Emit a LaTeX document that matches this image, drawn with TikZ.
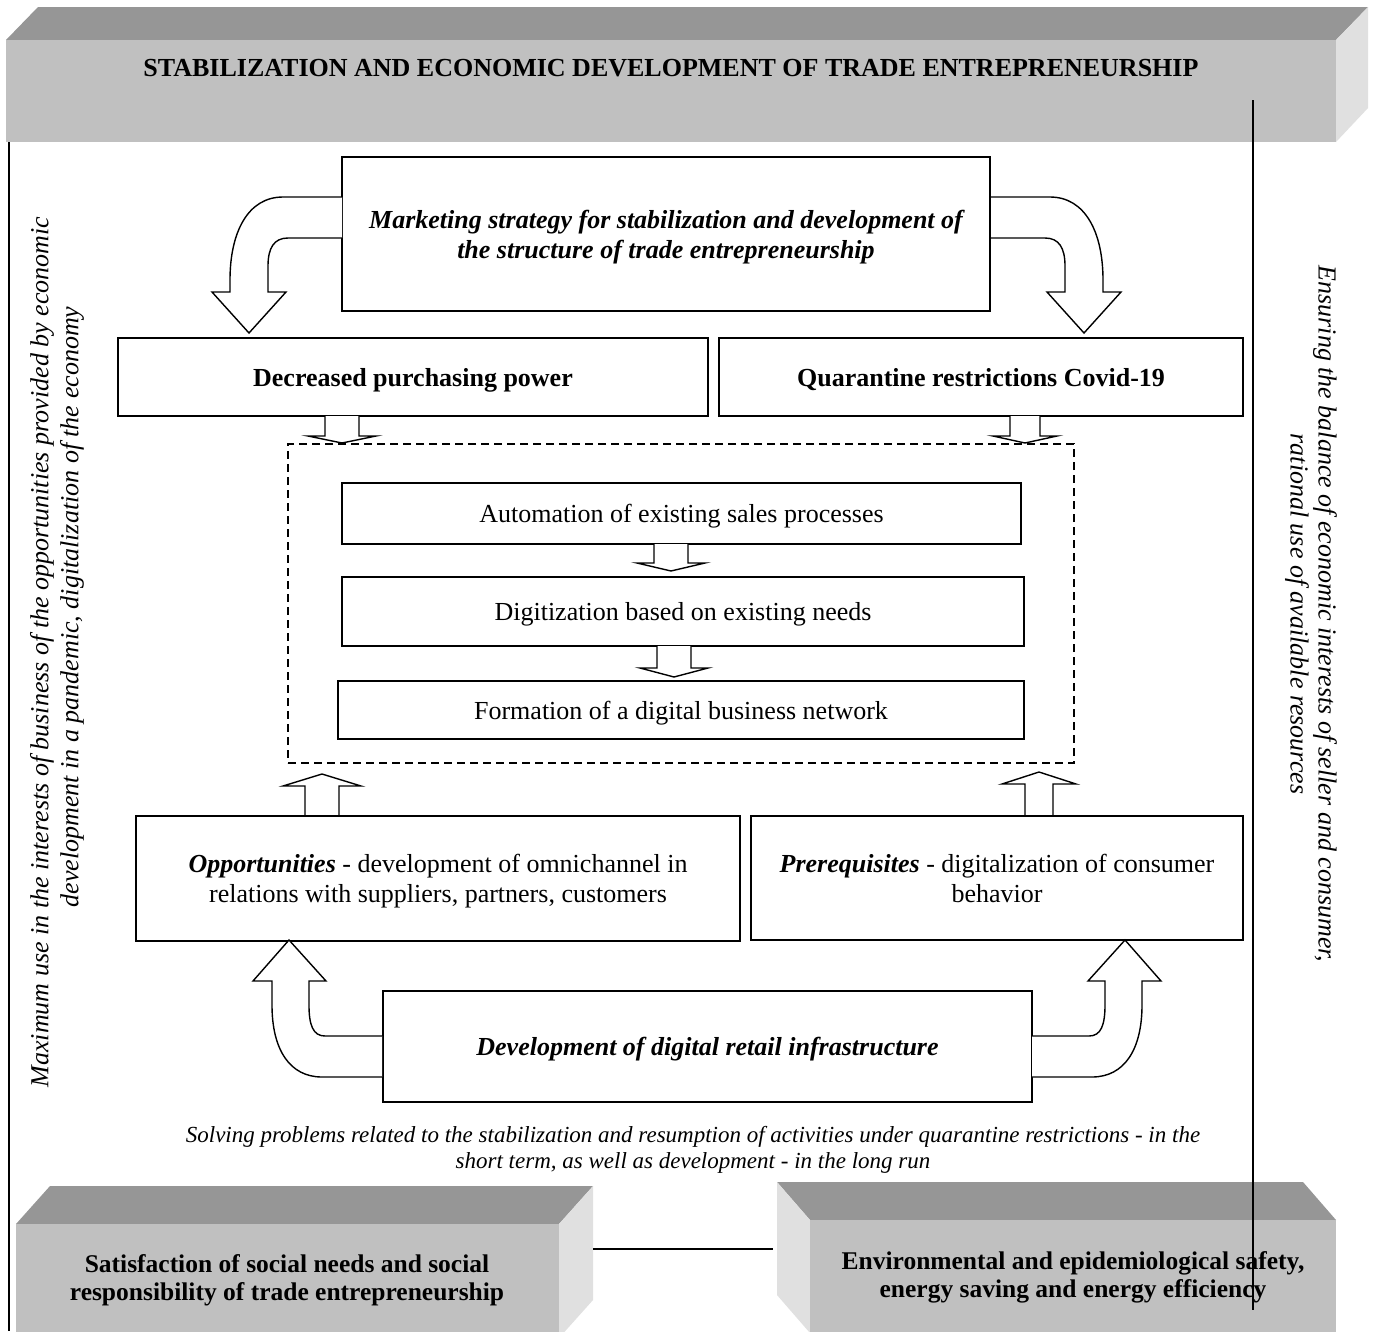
\documentclass[tikz,border=0pt]{standalone}
\usepackage{fontspec}
\setmainfont{Liberation Serif}
\definecolor{frontgray}{HTML}{C0C0C0}
\definecolor{topgray}{HTML}{969696}
\definecolor{sidegray}{HTML}{E0E0E0}
\newcommand\fsmain{\fontsize{26}{30}\selectfont}
\newcommand\fsside{\fontsize{26}{28}\selectfont}
\newcommand\fscapt{\fontsize{23}{26}\selectfont}
\newcommand\fsbottom{\fontsize{25.5}{28}\selectfont}
\newcommand\blkarrow[6]{\draw[blockarrow] ({#1-#5},#2) -- ({#1-#5},#3) -- ({#1-#6},#3) -- (#1,#4) -- ({#1+#6},#3) -- ({#1+#5},#3) -- ({#1+#5},#2);}
\begin{document}
\begin{tikzpicture}[x=1pt,y=-1pt,
  box/.style={draw, line width=1.4pt, fill=white, inner sep=0pt, align=center, font=\fsmain, text depth=0pt},
  blockarrow/.style={draw, line width=1.4pt, fill=white, line join=miter},
  lbl/.style={inner sep=0pt, align=center, font=\fsmain},
  face/.style={fill=#1, inner sep=0pt, anchor=north west}]
\clip (0,0) rectangle (1376,1331);
\fill[white] (0,0) rectangle (1376,1331);

% top banner
\fill[topgray] (6,40) -- (38,7) -- (1368,7) -- (1336,40) -- cycle;
\fill[sidegray] (1336,40) -- (1368,7) -- (1368,108) -- (1336,142) -- cycle;
\node[face=frontgray, minimum width=1330pt, minimum height=102pt] (banner) at (6,40) {};
\node[lbl, font=\fsmain\bfseries] (title) at (671,68) {STABILIZATION AND ECONOMIC DEVELOPMENT OF TRADE ENTREPRENEURSHIP};

% bottom-left 3D box
\fill[topgray] (16,1224) -- (50,1186) -- (593,1186) -- (559,1224) -- cycle;
\fill[sidegray] (559,1224) -- (593,1186) -- (593,1300) -- (559,1338) -- cycle;
\node[face=frontgray, minimum width=543pt, minimum height=120pt] (soc) at (16,1224) {};
\node[lbl, font=\fsbottom\bfseries] (soctxt) at (287,1280) {Satisfaction of social needs and social\\responsibility of trade entrepreneurship};

% bottom-right 3D box
\fill[topgray] (810,1220) -- (777,1182) -- (1303,1182) -- (1336,1220) -- cycle;
\fill[sidegray] (810,1220) -- (777,1182) -- (777,1295) -- (810,1333) -- cycle;
\node[face=frontgray, minimum width=526pt, minimum height=125pt] (env) at (810,1220) {};
\node[lbl, font=\fsbottom\bfseries] (envtxt) at (1073,1277) {Environmental and epidemiological safety,\\energy saving and energy efficiency};

% side lines and connector between bottom boxes
\coordinate (lt) at (9,142);
\coordinate (lb) at (9,1331);
\coordinate (rt) at (1253,100);
\coordinate (rb) at (1253,1310);
\coordinate (c1) at (593,1249);
\coordinate (c2) at (773,1249);
\draw[line width=1.4pt] (lt) -- (lb);
\draw[line width=1.4pt] (rt) -- (rb);
\draw[line width=1.4pt] (c1) -- (c2);

% side texts
\node[lbl, font=\fsside\itshape, rotate=90] (sideL1) at (42,652) {Maximum use in the interests of business of the opportunities provided by economic};
\node[lbl, font=\fsside\itshape, rotate=90] (sideL2) at (72,607) {development in a pandemic, digitalization of the economy};
\node[lbl, font=\fsside\itshape, rotate=-90] (sideR) at (1311,614) {Ensuring the balance of economic interests of seller and consumer,\\rational use of available resources};

% main boxes
\node[box, minimum width=648pt, minimum height=154pt, font=\fsmain\bfseries\itshape] (mkt) at (666,234) {Marketing strategy for stabilization and development of\\the structure of trade entrepreneurship};
\node[box, minimum width=590pt, minimum height=78pt, font=\fsmain\bfseries] (dec) at (413,377) {Decreased purchasing power};
\node[box, minimum width=524pt, minimum height=78pt, font=\fsmain\bfseries] (qua) at (981,377) {Quarantine restrictions Covid-19};

% curved arrows from marketing box
\draw[blockarrow] (342,197) -- (283,197) .. controls (248,197) and (230,232) .. (230,280) -- (230,292) -- (212,292) -- (249,333) -- (286,292) -- (268,292) -- (268,266) .. controls (268,248) and (274,238) .. (288,238) -- (342,238);
\draw[blockarrow] (991,197) -- (1050,197) .. controls (1085,197) and (1103,232) .. (1103,280) -- (1103,292) -- (1121,292) -- (1084,333) -- (1047,292) -- (1065,292) -- (1065,266) .. controls (1065,248) and (1059,238) .. (1045,238) -- (991,238);

% dashed group
\node[draw, dash pattern=on 8pt off 5pt, line width=1.4pt, minimum width=786pt, minimum height=319pt, inner sep=0pt] (dig) at (681,603.5) {};
\node[box, minimum width=679pt, minimum height=61pt] (a1) at (681.5,513.5) {Automation of existing sales processes};
\node[box, minimum width=682pt, minimum height=69pt] (a2) at (683,611.5) {Digitization based on existing needs};
\node[box, minimum width=686pt, minimum height=58pt] (a3) at (681,710) {Formation of a digital business network};

% small block arrows
\blkarrow{342}{416}{436}{443}{17}{34}
\blkarrow{1025}{416}{436}{443}{15}{32}
\blkarrow{671}{544}{563}{571}{17}{34}
\blkarrow{674}{646}{668}{677}{17}{34}
\blkarrow{322}{816}{786}{774}{17}{39}
\blkarrow{1039}{815}{784}{772}{14}{37}

% lower boxes
\node[box, minimum width=604pt, minimum height=125pt] (opp) at (438,878.5) {\textbf{\textit{Opportunities}} - development of omnichannel in\\relations with suppliers, partners, customers};
\node[box, minimum width=492pt, minimum height=124pt] (pre) at (997,878) {\textbf{\textit{Prerequisites}} - digitalization of consumer\\behavior};
\node[box, minimum width=649pt, minimum height=111pt, font=\fsmain\bfseries\itshape] (dev) at (707.5,1046.5) {Development of digital retail infrastructure};

% curved arrows from development box
\draw[blockarrow] (382,1036) -- (325,1036) .. controls (313,1036) and (309,1025) .. (309,1005) -- (309,981) -- (326,981) -- (289,940) -- (253,981) -- (272,981) -- (272,1005) .. controls (272,1050) and (290,1077) .. (322,1077) -- (382,1077);
\draw[blockarrow] (1032,1036) -- (1089,1036) .. controls (1101,1036) and (1105,1025) .. (1105,1005) -- (1105,981) -- (1088,981) -- (1125,940) -- (1161,981) -- (1142,981) -- (1142,1005) .. controls (1142,1050) and (1124,1077) .. (1092,1077) -- (1032,1077);

% caption
\node[lbl, font=\fscapt\itshape] (capt) at (693,1150) {Solving problems related to the stabilization and resumption of activities under quarantine restrictions - in the\\short term, as well as development - in the long run};
\end{tikzpicture}
\end{document}
